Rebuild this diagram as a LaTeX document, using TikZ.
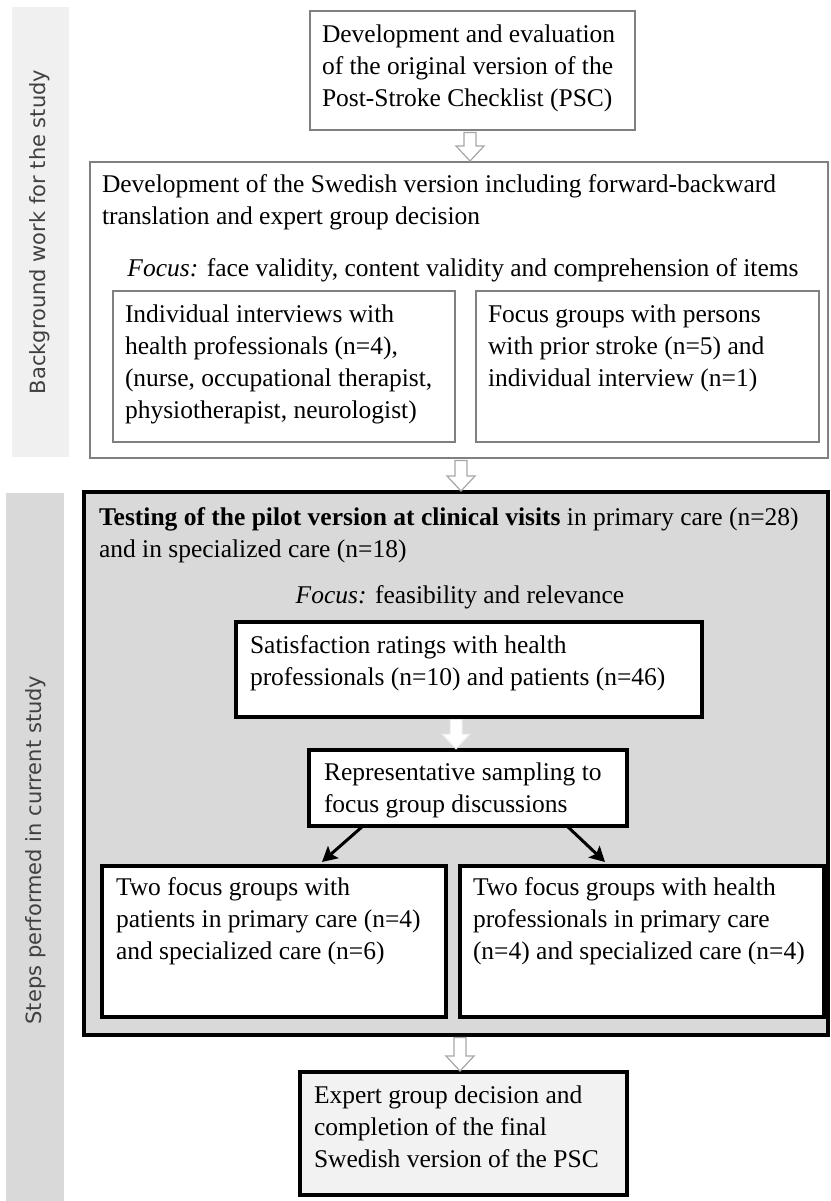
\documentclass[tikz,border=0pt]{standalone}
\usepackage{fontspec}
\setmainfont{Liberation Serif}
\newfontfamily\sidefont{DejaVu Sans}
\usetikzlibrary{arrows.meta,calc}
\definecolor{thinline}{HTML}{808080}
\definecolor{midgray}{HTML}{D9D9D9}
\definecolor{sidelight}{HTML}{F0F0F0}
\definecolor{finalfill}{HTML}{F2F2F2}
\definecolor{arrowgray}{HTML}{A6A6A6}
\definecolor{sidetext}{HTML}{404040}
\newcommand\T{\rule{0pt}{22pt}}
\newcommand\myblockarrow[4]{%
  \draw[#1] let \p1=(#3), \p2=(#4) in
    ({#2-6pt},{\y1-2.5pt}) -- ({#2+6pt},{\y1-2.5pt}) -- ({#2+6pt},{\y2+16pt})
    -- ({#2+14pt},{\y2+16pt}) -- (#2,{\y2+1pt}) -- ({#2-14pt},{\y2+16pt})
    -- ({#2-6pt},{\y2+16pt}) -- cycle;}
\begin{document}
\begin{tikzpicture}[x=1pt,y=-1pt,
  every node/.style={inner sep=0pt, outer sep=0pt},
  thinbox/.style={draw=thinline, line width=1.2pt, fill=white, anchor=north west},
  thickbox/.style={draw=black, line width=3.5pt, fill=white, anchor=north west},
  txt/.style={anchor=north west, align=left, font=\fontsize{25.5}{32}\selectfont},
  ctxt/.style={anchor=base, font=\fontsize{25.5}{32}\selectfont},
  sidelabel/.style={rotate=90, font=\sidefont\fontsize{21}{24}\selectfont, text=sidetext},
  hollow/.style={draw=arrowgray, line width=1.2pt, fill=white},
  whitearrow/.style={draw=white!85!gray, line width=1pt, fill=white},
  blackarrow/.style={draw=black, line width=3pt, -{Stealth[length=15pt,width=16pt,inset=3pt]}}
]
\useasboundingbox (0,0) rectangle (830,1201);
\fill[white] (0,0) rectangle (830,1201);

% side bars
\node[fill=sidelight, anchor=north west, minimum width=57pt, minimum height=450pt] (sb1) at (12,7) {};
\node[sidelabel] (sb1t) at (40,232) {Background work for the study};
\node[fill=midgray, anchor=north west, minimum width=58pt, minimum height=708pt] (sb2) at (6,493) {};
\node[sidelabel] (sb2t) at (36,850) {Steps performed in current study};

% background boxes
\node[thinbox, minimum width=325pt, minimum height=119pt] (box1) at (310,11) {};
\node[txt] (box1t) at (322,21) {\T Development and evaluation\\of the original version of the\\Post-Stroke Checklist (PSC)};

\node[thinbox, minimum width=738pt, minimum height=296pt] (box2) at (90,162) {};
\node[txt] (box2t) at (102,170) {\T Development of the Swedish version including forward-backward\\translation and expert group decision};
\node[ctxt] (focus1) at (463,276) {\textit{Focus:} face validity, content validity and comprehension of items};

\node[thinbox, minimum width=342pt, minimum height=151pt] (ilb) at (113,291) {};
\node[txt] (ilbt) at (125,300) {\T Individual interviews with\\health professionals (n=4),\\(nurse, occupational therapist,\\physiotherapist, neurologist)};
\node[thinbox, minimum width=343pt, minimum height=151pt] (irb) at (476,291) {};
\node[txt] (irbt) at (488,300) {\T Focus groups with persons\\with prior stroke (n=5) and\\individual interview (n=1)};

% current study
\node[draw=black, line width=3.5pt, fill=midgray, anchor=north west, minimum width=744pt, minimum height=543pt] (gray) at (84,492) {};
\node[txt] (grayt) at (99,503) {\T\textbf{Testing of the pilot version at clinical visits} in primary care (n=28)\\and in specialized care (n=18)};
\node[ctxt] (focus2) at (460,603) {\textit{Focus:} feasibility and relevance};

\node[thickbox, minimum width=466pt, minimum height=95pt] (sat) at (236,622) {};
\node[txt] (satt) at (250,631) {\T Satisfaction ratings with health\\professionals (n=10) and patients (n=46)};

\node[thickbox, minimum width=318pt, minimum height=76pt] (rep) at (309,750) {};
\node[txt] (rept) at (324,758) {\T Representative sampling to\\focus group discussions};

\node[thickbox, minimum width=344pt, minimum height=151pt] (bl) at (102,866) {};
\node[txt] (blt) at (116,873) {\T Two focus groups with\\patients in primary care (n=4)\\and specialized care (n=6)};
\node[thickbox, minimum width=364pt, minimum height=151pt] (br) at (460,866) {};
\node[txt] (brt) at (473,873) {\T Two focus groups with health\\professionals in primary care\\(n=4) and specialized care (n=4)};

\node[thickbox, fill=finalfill, minimum width=327pt, minimum height=123pt] (final) at (300,1072) {};
\node[txt] (finalt) at (314,1081) {\T Expert group decision and\\completion of the final\\Swedish version of the PSC};

% connectors
\myblockarrow{hollow}{470pt}{box1.south}{box2.north}
\myblockarrow{hollow}{461pt}{box2.south}{gray.north}
\myblockarrow{whitearrow}{456pt}{sat.south}{rep.north}
\myblockarrow{hollow}{460pt}{gray.south}{final.north}
\draw[blackarrow] ($(rep.south west)+(54,0)$) -- ($(bl.north west)+(220,-4)$);
\draw[blackarrow] ($(rep.south east)+(-60,0)$) -- ($(br.north west)+(145,-4)$);
\end{tikzpicture}
\end{document}
